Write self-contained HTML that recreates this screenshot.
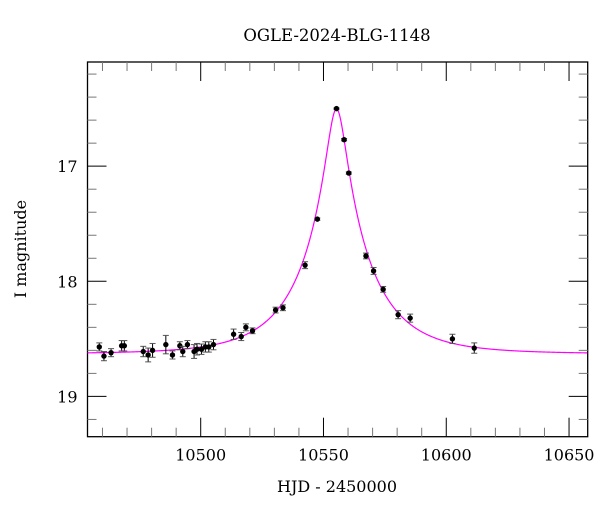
<!DOCTYPE html>
<html><head><meta charset="utf-8"><style>
html,body{margin:0;padding:0;background:#fff;}
svg{display:block;font-family:"DejaVu Serif","Liberation Serif",serif;}
</style></head><body>
<svg id="chart" width="600" height="512" viewBox="0 0 600 512" xmlns="http://www.w3.org/2000/svg">
<text x="337" y="41" text-anchor="middle" font-size="16.5">OGLE-2024-BLG-1148</text>
<g id="axes"></g>
<g id="curve"></g>
<g id="points"></g>
<text x="337" y="492" text-anchor="middle" font-size="16">HJD - 2450000</text>
<text transform="translate(26,249) rotate(-90)" text-anchor="middle" font-size="16">I magnitude</text>
</svg>
<script>
const times = [10458.7,10460.6,10463.5,10467.8,10468.9,10476.6,10478.6,10480.4,10485.8,10488.5,10491.5,10492.7,10494.6,10497.3,10498.5,10500.3,10501.9,10503.3,10505.2,10513.4,10516.5,10518.4,10521.1,10530.5,10533.5,10542.5,10547.5,10555.3,10558.4,10560.3,10567.3,10570.4,10574.3,10580.4,10585.3,10602.5,10611.4];
const mags = [18.57,18.65,18.62,18.56,18.56,18.61,18.64,18.60,18.55,18.64,18.56,18.61,18.55,18.61,18.59,18.59,18.57,18.57,18.55,18.46,18.48,18.40,18.43,18.25,18.23,17.86,17.46,16.50,16.77,17.06,17.78,17.91,18.07,18.29,18.32,18.50,18.58];
const errs = [0.035,0.04,0.035,0.045,0.045,0.045,0.06,0.06,0.08,0.035,0.035,0.045,0.035,0.06,0.05,0.045,0.045,0.045,0.045,0.045,0.035,0.03,0.025,0.025,0.025,0.03,0.01,0.006,0.01,0.01,0.025,0.03,0.025,0.035,0.035,0.04,0.045];
const xTicks = [10500,10550,10600,10650];
const yTicks = [17,18,19];
const model = {t0:10555.3, tE:27, u0:0.142, base:18.63};

const L=87.5,R=587.7,T=62,B=436.7;
const xMin=10453.9,xMax=10657.6,yMin=16.095,yMax=19.35;
const X=t=>L+(t-xMin)/(xMax-xMin)*(R-L);
const Y=m=>T+(m-yMin)/(yMax-yMin)*(B-T);
const NS="http://www.w3.org/2000/svg";
function mk(tag,attrs,parent){const e=document.createElementNS(NS,tag);for(const k in attrs)e.setAttribute(k,attrs[k]);parent.appendChild(e);return e;}
const axes=document.getElementById('axes');
const frame=mk('rect',{x:L,y:T,width:R-L,height:B-T,fill:'none',stroke:'#000','stroke-width':1.3},axes);


for(let t=10460;t<=xMax;t+=10){
  const major=t%50===0;const len=major?19:9;const x=X(t);
  const a=mk('line',{x1:x,x2:x,y1:B,y2:B-len,stroke:major?'#000':'#777','stroke-width':1},axes);
  
  
  const b=mk('line',{x1:x,x2:x,y1:T,y2:T+len,stroke:major?'#000':'#777','stroke-width':1},axes);
  
  
}
for(let k=Math.ceil(yMin*5);k<=Math.floor(yMax*5);k++){
  const m=k/5;const major=k%5===0;const len=major?19:9;const y=Y(m);
  const a=mk('line',{x1:L,x2:L+len,y1:y,y2:y,stroke:major?'#000':'#777','stroke-width':1},axes);
  
  
  const b=mk('line',{x1:R,x2:R-len,y1:y,y2:y,stroke:major?'#000':'#777','stroke-width':1},axes);
  
  
}
xTicks.forEach(t=>{const e=mk('text',{x:X(t),y:B+24,'text-anchor':'middle','font-size':16},axes);e.textContent=t;
  
  });
yTicks.forEach(m=>{const e=mk('text',{x:L-10,y:Y(m)+6,'text-anchor':'end','font-size':16},axes);e.textContent=m;
  
  });
function amp(u){return (u*u+2)/(u*Math.sqrt(u*u+4));}
let d='';
for(let t=xMin;t<=xMax;t+=0.25){const u=Math.sqrt(model.u0**2+((t-model.t0)/model.tE)**2);const m=model.base-2.5*Math.log10(amp(u));d+=(d?'L':'M')+X(t).toFixed(2)+','+Y(m).toFixed(2);}
const cp=mk('path',{d:d,fill:'none',stroke:'#ff00ff','stroke-width':1.2},document.getElementById('curve'));


const pg=document.getElementById('points');
times.forEach((t,i)=>{
  const x=X(t),y=Y(mags[i]),y1=Y(mags[i]-errs[i]),y2=Y(mags[i]+errs[i]);
  const g=mk('g',{},pg);
  
  
  mk('line',{x1:x,x2:x,y1:y1,y2:y2,stroke:'#000','stroke-width':1},g);
  mk('line',{x1:x-3,x2:x+3,y1:y1,y2:y1,stroke:'#555','stroke-width':1},g);
  mk('line',{x1:x-3,x2:x+3,y1:y2,y2:y2,stroke:'#555','stroke-width':1},g);
  mk('circle',{cx:x,cy:y,r:2.7,fill:'#000'},g);
});
</script>
</body></html>
